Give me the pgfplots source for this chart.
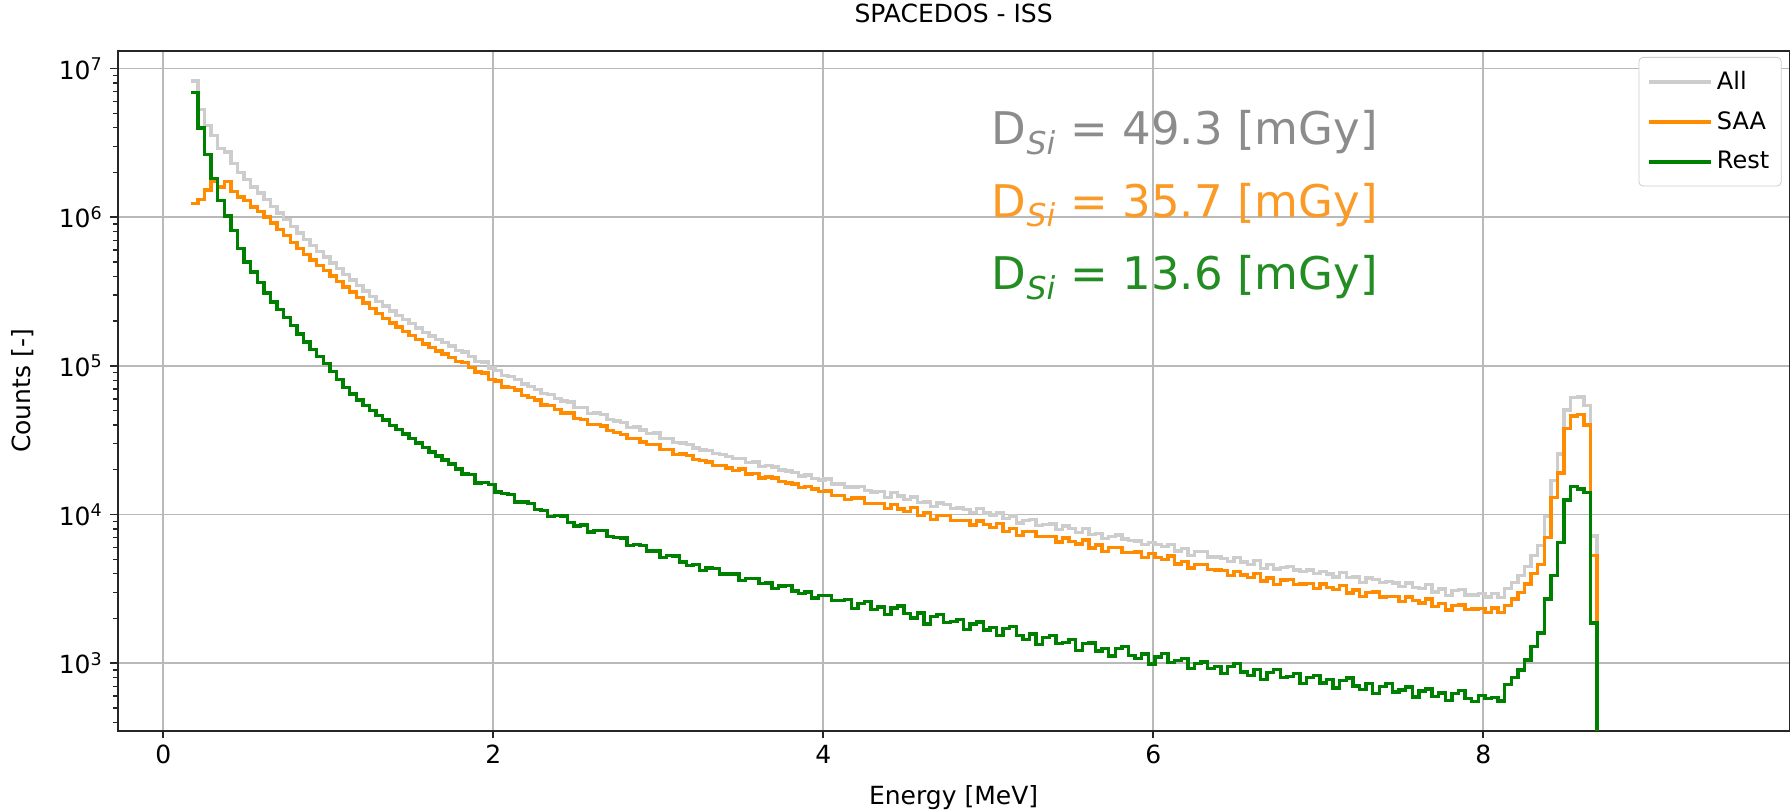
\documentclass[border=0pt]{standalone}
\usepackage{fontspec}
\setmainfont{DejaVu Sans}
\usepackage{pgfplots}
\pgfplotsset{compat=1.18}
\usepackage{pgfplotstable}

\definecolor{allgray}{RGB}{205,205,205}
\definecolor{saaorange}{RGB}{255,140,0}
\definecolor{restgreen}{RGB}{0,128,0}
\definecolor{txtgray}{RGB}{140,140,140}
\definecolor{txtorange}{RGB}{250,155,40}
\definecolor{txtgreen}{RGB}{35,140,35}
\definecolor{gridgray}{RGB}{185,185,185}

% energy bins (left edge, MeV) and counts per bin
\pgfplotstableread{
E saa rest all
0.17 1240000 6900000 8250000
0.21 1310000 3980000 5300000
0.25 1520000 2630000 4150000
0.29 1730000 1820000 3550000
0.33 1600000 1290000 2890000
0.37 1730000 1020000 2750000
0.41 1490000 813000 2300000
0.45 1370000 617000 1990000
0.49 1290000 501000 1790000
0.53 1170000 427000 1600000
0.57 1090000 363000 1450000
0.61 1000000 309000 1310000
0.65 912000 269000 1180000
0.69 830000 240000 1070000
0.73 750000 211000 961000
0.77 678000 186000 864000
0.81 617000 164000 781000
0.85 562000 145000 707000
0.89 514000 129000 643000
0.93 473000 116000 589000
0.97 436000 104000 540000
1.01 401000 91200 492000
1.05 369000 81300 450000
1.09 340000 71600 412000
1.13 313000 64600 378000
1.17 288000 58900 347000
1.21 265000 54300 319000
1.25 244000 50100 294000
1.29 225000 46200 271000
1.33 209000 43200 252000
1.37 194000 39800 234000
1.41 182000 37200 219000
1.45 170000 34700 205000
1.49 160000 32400 192000
1.53 150000 30200 180000
1.57 140000 28200 168000
1.61 133000 26300 159000
1.65 126000 24800 151000
1.69 120000 23200 143000
1.73 114000 21900 136000
1.77 106800 20200 127000
1.81 105100 18700 123800
1.85 97300 18560 115900
1.89 91080 16340 107400
1.93 89710 16360 106100
1.97 80750 15910 96660
2.01 79080 14210 93290
2.05 72270 13800 86070
2.09 71510 13600 85110
2.13 68650 12100 80750
2.17 63360 12120 75480
2.21 61000 11850 72850
2.25 58780 10780 69560
2.29 54490 10610 65100
2.33 54160 9700 63860
2.37 50700 9850 60550
2.41 48110 9800 57910
2.45 48200 8820 57020
2.49 44100 8350 52450
2.53 43730 8490 52220
2.57 40350 7640 47990
2.61 40400 7840 48240
2.65 39270 7800 47070
2.69 36630 7100 43730
2.73 35600 7000 42600
2.77 34540 6960 41500
2.81 32340 6200 38540
2.85 32540 6300 38840
2.89 30800 6210 37010
2.93 29500 5700 35200
2.97 29660 5680 35340
3.01 27340 5160 32500
3.05 27270 5290 32560
3.09 25320 5260 30580
3.13 25550 4790 30340
3.17 24990 4540 29530
3.21 23460 4610 28070
3.25 23000 4200 27200
3.29 22520 4360 26880
3.33 21270 4340 25610
3.37 21420 3990 25410
3.41 20500 3980 24480
3.45 19800 3970 23770
3.49 20190 3610 23800
3.53 18720 3710 22430
3.57 18890 3700 22590
3.61 17650 3440 21090
3.65 17880 3460 21340
3.69 17650 3180 20830
3.73 16630 3300 19930
3.77 16300 3320 19620
3.81 16060 3060 19120
3.85 15190 2930 18120
3.89 15400 3010 18410
3.93 14800 2740 17540
3.97 14260 2850 17110
4.01 14420 2860 17280
4.05 13430 2640 16070
4.09 13430 2630 16060
4.13 12610 2680 15290
4.17 12950 2340 15290
4.21 12900 2530 15430
4.25 11860 2600 14460
4.29 11900 2300 14200
4.33 11830 2390 14220
4.37 10940 2130 13070
4.41 11650 2350 14000
4.45 10900 2430 13330
4.49 10490 2150 12640
4.53 11130 2010 13140
4.57 9890 2170 12060
4.61 10300 1840 12140
4.65 9270 2060 11330
4.69 9850 2130 11980
4.73 9840 1870 11710
4.77 9080 1910 10990
4.81 9120 1970 11090
4.85 9150 1690 10840
4.89 8480 1840 10320
4.93 9040 1890 10930
4.97 8550 1670 10220
5.01 8210 1730 9940
5.05 8690 1530 10220
5.09 7720 1710 9430
5.13 8030 1760 9790
5.17 7250 1540 8790
5.21 7700 1440 9140
5.25 7700 1570 9270
5.29 7100 1330 8430
5.33 7100 1490 8590
5.37 7090 1540 8630
5.41 6550 1350 7900
5.45 6970 1380 8350
5.49 6580 1440 8020
5.53 6330 1220 7550
5.57 6720 1350 8070
5.61 5970 1370 7340
5.65 6230 1210 7440
5.69 5640 1260 6900
5.73 6010 1120 7130
5.77 6010 1250 7260
5.81 5570 1290 6860
5.85 5570 1130 6700
5.89 5580 1070 6650
5.93 5160 1150 6310
5.97 5480 990 6470
6.01 5160 1100 6260
6.05 4960 1160 6120
6.09 5250 1010 6260
6.13 4660 1040 5700
6.17 4850 1070 5920
6.21 4380 920 5300
6.25 4630 997 5630
6.29 4620 1020 5640
6.33 4250 917 5170
6.37 4240 952 5190
6.41 4220 849 5070
6.45 3900 948 4850
6.49 4150 992 5140
6.53 3920 873 4790
6.57 3770 828 4600
6.61 4010 906 4920
6.65 3570 775 4350
6.69 3730 868 4600
6.73 3390 908 4300
6.77 3620 799 4420
6.81 3640 813 4450
6.85 3380 852 4230
6.89 3400 730 4130
6.93 3430 801 4230
6.97 3180 823 4000
7.01 3400 736 4140
7.05 3220 774 3990
7.09 3120 682 3800
7.13 3320 762 4080
7.17 2970 796 3770
7.21 3100 702 3800
7.25 2810 666 3480
7.29 3000 728 3730
7.33 3020 623 3640
7.37 2790 698 3490
7.41 2810 730 3540
7.45 2820 641 3460
7.49 2610 661 3270
7.53 2780 692 3470
7.57 2630 594 3220
7.61 2540 651 3190
7.65 2700 669 3370
7.69 2410 599 3010
7.73 2520 629 3150
7.77 2280 561 2840
7.81 2450 627 3080
7.85 2460 656 3120
7.89 2290 577 2870
7.93 2320 554 2870
7.97 2340 605 2950
8.01 2200 580 2780
8.05 2350 587 2940
8.09 2200 555 2755
8.13 2450 720 3170
8.17 2700 800 3500
8.21 3000 900 3900
8.25 3400 1050 4450
8.29 4000 1300 5300
8.33 4600 1600 6200
8.37 7000 2700 9700
8.41 13000 3900 16900
8.45 19000 6500 25500
8.49 38000 12500 50500
8.53 46000 15500 61500
8.57 47000 14800 61800
8.61 40000 14000 54000
8.65 5300 1860 7160
8.69 1 1 1
}\spectrum

\begin{document}
\begin{tikzpicture}
\begin{axis}[
  scale only axis, width=836pt, height=339.6pt,
  xmin=-0.277, xmax=9.857,
  ymode=log, ymin=352, ymax=1.304e7,
  xtick={0,2,4,6,8},
  ytick={1e3,1e4,1e5,1e6,1e7},
  yticklabels={10\textsuperscript{3},10\textsuperscript{4},10\textsuperscript{5},10\textsuperscript{6},10\textsuperscript{7}},
  minor ytick={400,500,600,700,800,900,
    2e3,3e3,4e3,5e3,6e3,7e3,8e3,9e3,
    2e4,3e4,4e4,5e4,6e4,7e4,8e4,9e4,
    2e5,3e5,4e5,5e5,6e5,7e5,8e5,9e5,
    2e6,3e6,4e6,5e6,6e6,7e6,8e6,9e6},
  grid=major,
  major grid style={line width=0.8pt, draw=gridgray},
  minor grid style={draw=none},
  tick align=outside, tick pos=left,
  major tick length=3.9pt, minor tick length=2.4pt,
  tick style={black!85, line width=0.8pt},
  minor tick style={black!85, line width=0.7pt},
  axis line style={line width=1pt, black!85},
  tick label style={font=\fontsize{12.5}{15}\selectfont},
  /pgf/number format/assume math mode=true,
  title={SPACEDOS - ISS},
  title style={at={(axis description cs:0.5,1)}, anchor=base, yshift=8.2pt, font=\fontsize{12.5}{15}\selectfont},
  xlabel={Energy [MeV]},
  xlabel style={at={(axis description cs:0.5,0)}, anchor=base, yshift=-37.2pt, font=\fontsize{12.5}{15}\selectfont},
  ylabel={Counts [-]},
  ylabel style={at={(axis description cs:-0.0566,0.5)}, anchor=center, font=\fontsize{12.5}{15}\selectfont},
  legend cell align=left,
  legend image code/.code={\draw[#1, line width=2pt] (0pt,0pt) -- (31pt,0pt);},
  legend style={at={(axis description cs:1,1)}, anchor=north east, xshift=-4pt, yshift=-2.8pt,
    draw=black!20, rounded corners=2pt, fill=white,
    font=\fontsize{12}{14}\selectfont, inner xsep=4pt, inner ysep=5pt, row sep=5.5pt},
]
\addplot[const plot, draw=allgray, line width=1.7pt] table[x=E, y=all] {\spectrum};
\addlegendentry{All}
\addplot[const plot, draw=saaorange, line width=1.7pt] table[x=E, y=saa] {\spectrum};
\addlegendentry{SAA}
\addplot[const plot, draw=restgreen, line width=1.7pt] table[x=E, y=rest] {\spectrum};
\addlegendentry{Rest}

\node[anchor=base west, inner sep=0pt, text=txtgray, font=\fontsize{22.5}{27}\selectfont]
  at (axis cs:5.02,3.06e6) {D\textsubscript{\textit{Si}} = 49.3 [mGy]};
\node[anchor=base west, inner sep=0pt, text=txtorange, font=\fontsize{22.5}{27}\selectfont]
  at (axis cs:5.02,1.0e6) {D\textsubscript{\textit{Si}} = 35.7 [mGy]};
\node[anchor=base west, inner sep=0pt, text=txtgreen, font=\fontsize{22.5}{27}\selectfont]
  at (axis cs:5.02,3.24e5) {D\textsubscript{\textit{Si}} = 13.6 [mGy]};
\end{axis}
\pgfresetboundingbox
\path (-58.8pt,-40.7pt) rectangle (836.2pt,365.3pt);
\end{tikzpicture}
\end{document}
